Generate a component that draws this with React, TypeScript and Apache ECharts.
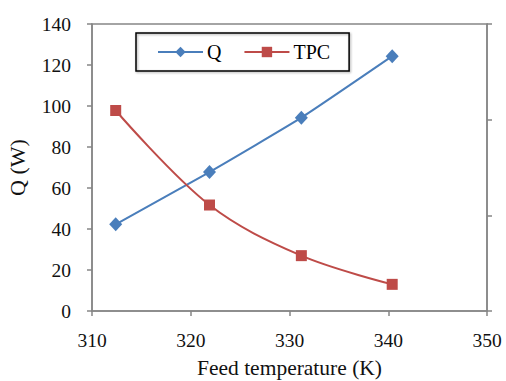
import React, { useEffect, useRef } from "react";
import * as echarts from "echarts";

const feedTemp = [312.4, 321.9, 331.2, 340.4];
const qValues = [42.3, 67.8, 94.3, 124.3];
const tpcValues = [97.8, 51.7, 27.0, 13.0];

const FONT = "'Liberation Serif', 'Times New Roman', serif";
const AXIS_COLOR = "#868686";

export default function App() {
  const ref = useRef<HTMLDivElement>(null);
  useEffect(() => {
    if (!ref.current) return;
    const chart = echarts.init(ref.current, undefined, { renderer: "svg" });
    chart.setOption({
      animation: false,
      backgroundColor: "#ffffff",
      grid: {
        left: 92,
        right: 19,
        top: 24,
        bottom: 70,
        outerBoundsMode: "none",
        containLabel: false,
        show: true,
        borderColor: AXIS_COLOR,
        borderWidth: 1.5,
      },
      legend: {
        left: 136,
        top: 33,
        orient: "horizontal",
        borderColor: "#000",
        borderWidth: 1.5,
        padding: [9, 19, 9, 21],
        itemWidth: 45,
        itemHeight: 13,
        itemGap: 22,
        shadowColor: "rgba(0,0,0,0.35)",
        shadowBlur: 2,
        shadowOffsetX: 1,
        shadowOffsetY: 1,
        textStyle: { fontFamily: FONT, fontSize: 20, color: "#000", padding: [0, 0, 0, -1] },
        data: ["Q", "TPC"],
      },
      xAxis: {
        type: "value",
        min: 310,
        max: 350,
        interval: 10,
        name: "Feed temperature (K)",
        nameLocation: "middle",
        nameGap: 46,
        nameTextStyle: { fontFamily: FONT, fontSize: 21.5, color: "#111", lineHeight: 22 },
        axisLine: { show: true, lineStyle: { color: AXIS_COLOR, width: 1.5 } },
        axisTick: { show: true, length: 5, lineStyle: { color: AXIS_COLOR, width: 1.5 } },
        axisLabel: { fontFamily: FONT, fontSize: 19.5, color: "#111", margin: 19 },
        splitLine: { show: false },
      },
      yAxis: [
        {
          type: "value",
          min: 0,
          max: 140,
          interval: 20,
          name: "Q (W)",
          nameLocation: "middle",
          nameGap: 64,
          nameRotate: 90,
          nameTextStyle: { fontFamily: FONT, fontSize: 22, color: "#111" },
          axisLine: { show: true, lineStyle: { color: AXIS_COLOR, width: 1.5 } },
          axisTick: { show: true, length: 5, lineStyle: { color: AXIS_COLOR, width: 1.5 } },
          axisLabel: { fontFamily: FONT, fontSize: 19.5, color: "#111", margin: 21 },
          splitLine: { show: false },
        },
        {
          type: "value",
          position: "right",
          min: 0,
          max: 3,
          interval: 1,
          axisLine: { show: true, lineStyle: { color: AXIS_COLOR, width: 1.5 } },
          axisTick: { show: true, length: 5, lineStyle: { color: AXIS_COLOR, width: 1.5 } },
          axisLabel: { show: false },
          splitLine: { show: false },
        },
      ],
      series: [
        {
          name: "Q",
          type: "line",
          yAxisIndex: 0,
          data: feedTemp.map((t, i) => [t, qValues[i]]),
          smooth: 0.15,
          symbol: "diamond",
          symbolSize: [13, 14],
          color: "#4a7ebb",
          lineStyle: { color: "#4a7ebb", width: 2 },
          itemStyle: { color: "#4a7ebb" },
        },
        {
          name: "TPC",
          type: "line",
          yAxisIndex: 0,
          data: feedTemp.map((t, i) => [t, tpcValues[i]]),
          smooth: 0.35,
          symbol: "rect",
          symbolSize: 11,
          color: "#be4b48",
          lineStyle: { color: "#be4b48", width: 2 },
          itemStyle: { color: "#be4b48" },
        },
      ],
    });
    return () => chart.dispose();
  }, []);
  return <div ref={ref} style={{ width: 506, height: 381, position: "absolute", left: 0, top: 0 }} />;
}
